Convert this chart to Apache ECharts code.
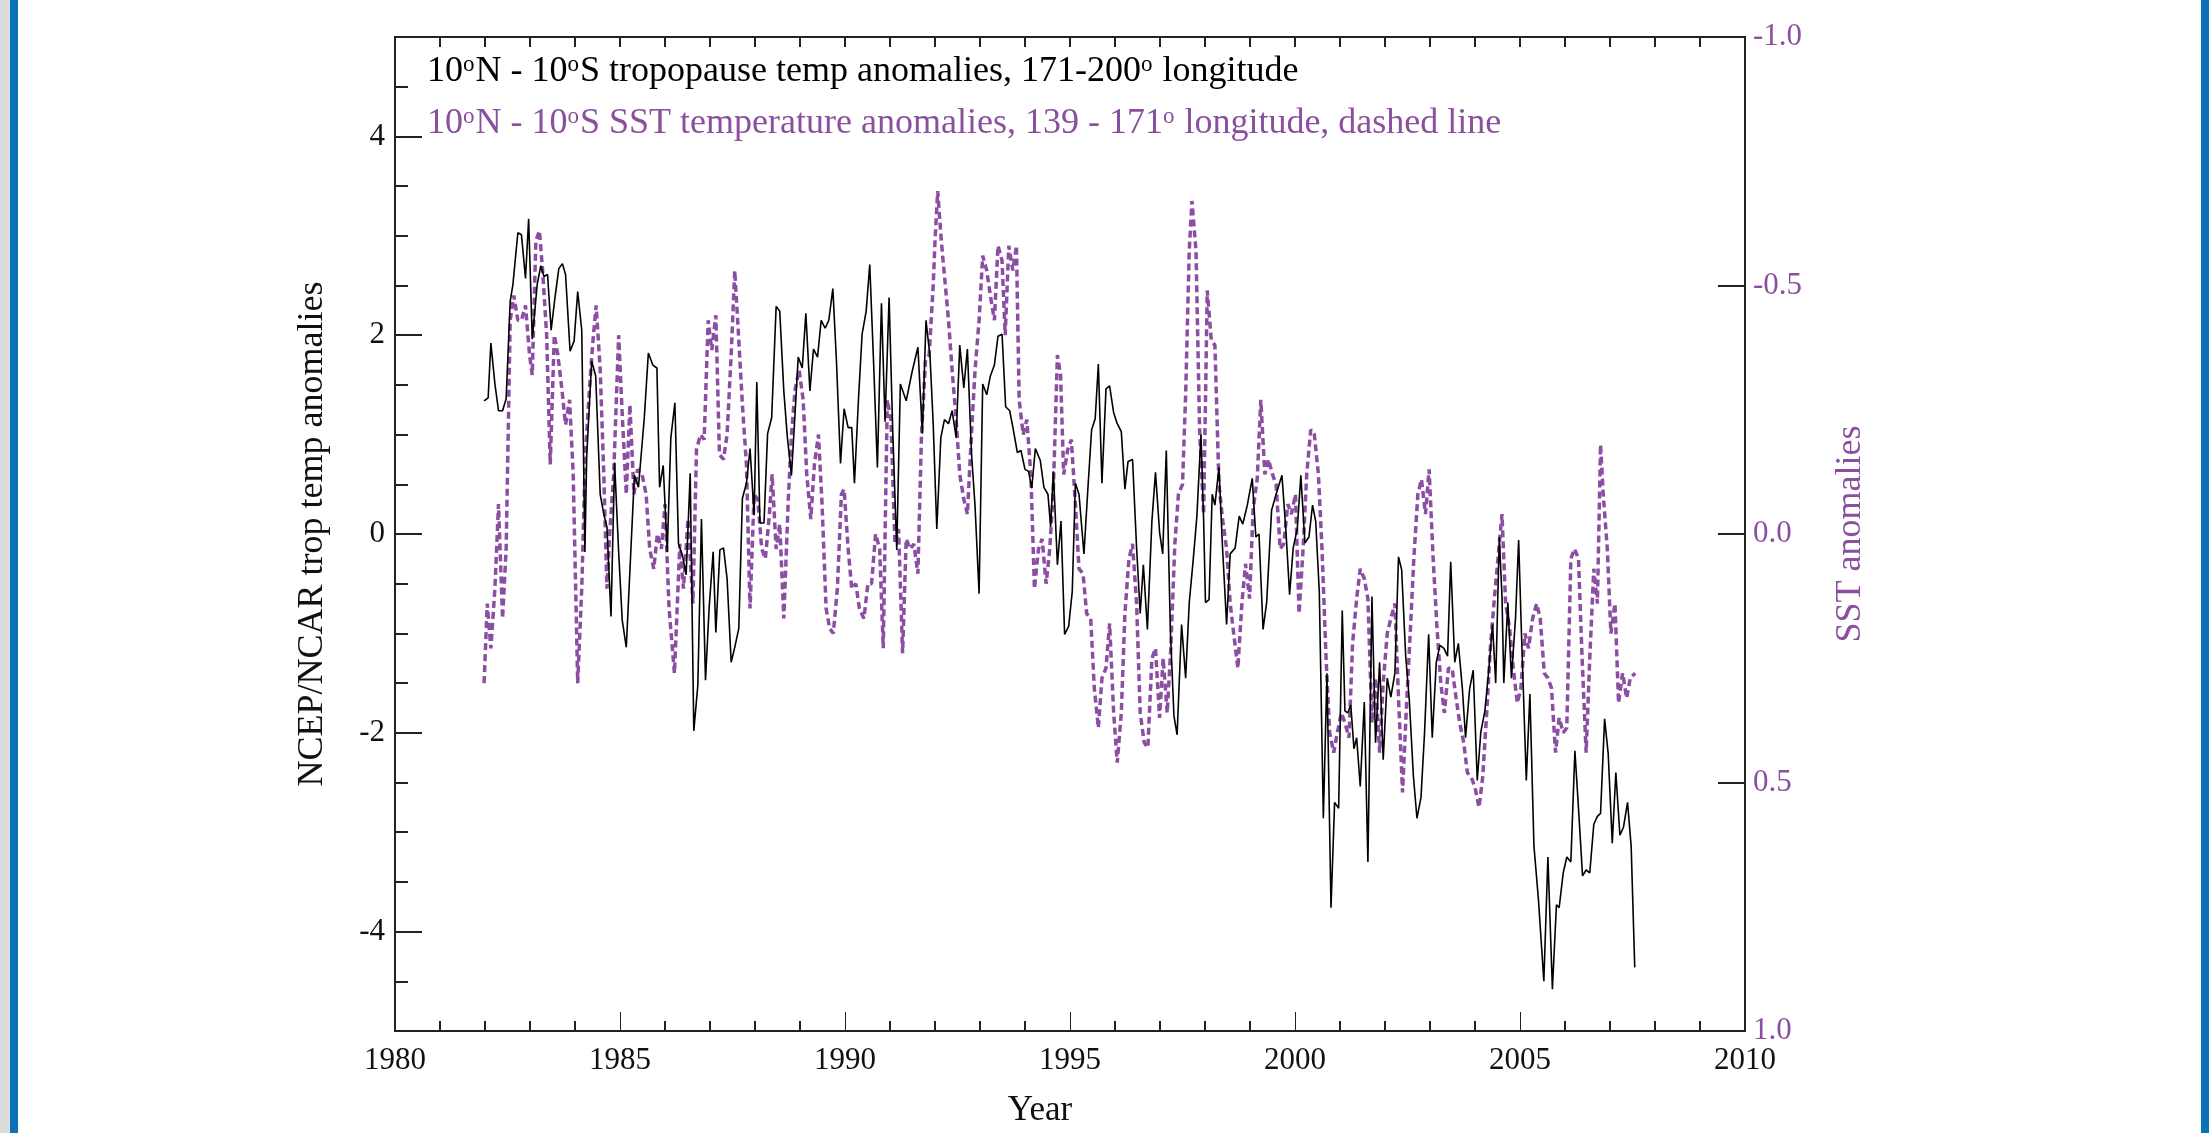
<!DOCTYPE html>
<html>
<head>
<meta charset="utf-8">
<script src="https://cdn.jsdelivr.net/npm/echarts@6/dist/echarts.min.js"></script>
<style>
html,body{margin:0;padding:0;background:#fff;}
#chart{width:2209px;height:1133px;}
</style>
</head>
<body>
<div id="chart"></div>
<script>
// Tropopause temperature anomalies (left axis), decimal year / value
const tropoYears = [1981.98,1982.07,1982.13,1982.22,1982.30,1982.39,1982.47,1982.56,1982.62,1982.73,1982.81,1982.90,1982.97,1983.05,1983.16,1983.24,1983.31,1983.39,1983.47,1983.55,1983.64,1983.72,1983.79,1983.89,1983.98,1984.06,1984.15,1984.22,1984.26,1984.37,1984.46,1984.56,1984.64,1984.71,1984.80,1984.88,1984.97,1985.05,1985.14,1985.24,1985.32,1985.41,1985.54,1985.63,1985.73,1985.82,1985.88,1985.96,1986.05,1986.13,1986.22,1986.30,1986.39,1986.47,1986.56,1986.64,1986.73,1986.81,1986.90,1986.98,1987.07,1987.13,1987.22,1987.30,1987.38,1987.47,1987.55,1987.64,1987.72,1987.81,1987.89,1987.98,1988.04,1988.11,1988.20,1988.28,1988.37,1988.47,1988.55,1988.64,1988.72,1988.81,1988.89,1988.96,1989.05,1989.13,1989.22,1989.30,1989.39,1989.47,1989.56,1989.64,1989.73,1989.81,1989.90,1989.98,1990.07,1990.15,1990.21,1990.30,1990.38,1990.47,1990.55,1990.64,1990.72,1990.81,1990.89,1990.98,1991.06,1991.15,1991.23,1991.36,1991.49,1991.62,1991.72,1991.80,1991.89,1991.96,1992.04,1992.13,1992.21,1992.30,1992.38,1992.47,1992.55,1992.64,1992.72,1992.81,1992.89,1992.98,1993.06,1993.15,1993.23,1993.32,1993.40,1993.49,1993.57,1993.66,1993.74,1993.83,1993.91,1994.00,1994.08,1994.15,1994.23,1994.34,1994.42,1994.51,1994.57,1994.63,1994.72,1994.80,1994.88,1994.97,1995.05,1995.12,1995.20,1995.31,1995.39,1995.48,1995.56,1995.63,1995.71,1995.80,1995.88,1995.97,1996.05,1996.14,1996.22,1996.29,1996.39,1996.48,1996.56,1996.63,1996.72,1996.82,1996.90,1996.99,1997.06,1997.14,1997.23,1997.31,1997.38,1997.48,1997.57,1997.65,1997.74,1997.82,1997.91,1997.97,1998.01,1998.09,1998.16,1998.22,1998.31,1998.39,1998.48,1998.56,1998.67,1998.76,1998.84,1998.94,1999.05,1999.13,1999.20,1999.29,1999.37,1999.48,1999.58,1999.71,1999.80,1999.88,1999.96,2000.05,2000.13,2000.22,2000.31,2000.39,2000.46,2000.54,2000.63,2000.71,2000.80,2000.88,2000.97,2001.05,2001.11,2001.17,2001.24,2001.31,2001.37,2001.45,2001.54,2001.62,2001.71,2001.79,2001.88,2001.96,2002.05,2002.13,2002.22,2002.30,2002.37,2002.46,2002.54,2002.63,2002.71,2002.80,2002.88,2002.97,2003.05,2003.14,2003.22,2003.31,2003.39,2003.46,2003.55,2003.63,2003.72,2003.79,2003.88,2003.96,2004.05,2004.13,2004.22,2004.30,2004.39,2004.46,2004.54,2004.60,2004.64,2004.73,2004.81,2004.90,2004.97,2005.03,2005.14,2005.22,2005.31,2005.41,2005.53,2005.62,2005.72,2005.81,2005.87,2005.96,2006.04,2006.13,2006.22,2006.30,2006.39,2006.47,2006.55,2006.64,2006.72,2006.79,2006.88,2006.96,2007.05,2007.13,2007.22,2007.30,2007.39,2007.47,2007.55];
const tropoValues = [1.34,1.37,1.92,1.51,1.24,1.24,1.36,2.34,2.51,3.03,3.01,2.57,3.17,1.96,2.51,2.70,2.59,2.61,2.05,2.36,2.67,2.72,2.61,1.84,1.94,2.44,2.05,-0.18,0.78,1.74,1.59,0.40,0.20,0.07,-0.83,0.72,-0.18,-0.87,-1.14,-0.18,0.59,0.47,1.17,1.82,1.70,1.67,0.47,0.69,-0.18,0.97,1.32,-0.10,-0.22,-0.41,0.61,-1.98,-1.52,0.15,-1.47,-0.75,-0.18,-0.99,-0.16,-0.14,-0.45,-1.29,-1.14,-0.95,0.36,0.51,0.86,0.19,1.53,0.11,0.11,1.01,1.17,2.29,2.24,1.44,0.97,0.59,1.21,1.78,1.67,2.22,1.44,1.86,1.78,2.15,2.07,2.15,2.47,1.74,0.71,1.26,1.07,1.07,0.51,1.36,2.01,2.24,2.71,1.67,0.67,2.32,1.13,2.38,1.05,-0.16,1.51,1.34,1.63,1.88,1.01,2.15,1.78,1.11,0.05,0.97,1.15,1.11,1.24,0.97,1.90,1.47,1.86,0.82,0.28,-0.60,1.51,1.40,1.59,1.70,1.99,2.01,1.28,1.24,1.05,0.82,0.84,0.65,0.63,0.46,0.86,0.74,0.47,0.40,0.07,0.63,-0.31,0.13,-1.01,-0.93,-0.58,0.51,0.40,-0.20,0.40,1.05,1.16,1.71,0.51,1.46,1.49,1.22,1.11,1.03,0.45,0.73,0.75,-0.14,-0.80,-0.31,-0.96,0.13,0.62,0.02,-0.20,0.84,-0.96,-1.83,-2.02,-0.91,-1.45,-0.69,-0.25,0.18,1.00,0.13,-0.69,-0.66,0.40,0.29,0.67,-0.14,-0.91,-0.20,-0.14,0.18,0.10,0.29,0.56,-0.03,0.00,-0.96,-0.69,0.24,0.40,0.59,0.02,-0.61,-0.14,0.05,0.59,-0.09,-0.03,0.29,0.13,-0.58,-2.86,-1.40,-3.76,-2.70,-2.76,-0.77,-1.78,-1.80,-1.72,-2.16,-2.05,-2.54,-1.69,-3.30,-0.63,-2.10,-1.29,-2.27,-1.45,-1.64,-1.40,-0.23,-0.36,-1.23,-1.67,-2.43,-2.86,-2.65,-1.99,-1.01,-2.05,-1.29,-1.12,-1.15,-1.23,-0.28,-1.29,-1.10,-1.56,-2.05,-1.56,-1.37,-2.48,-1.99,-1.78,-1.40,-0.91,-1.50,-0.03,-0.63,-1.50,-0.69,-1.45,-0.85,-0.06,-0.96,-2.48,-1.61,-3.14,-3.68,-4.50,-3.25,-4.58,-3.73,-3.76,-3.41,-3.25,-3.30,-2.18,-2.76,-3.44,-3.38,-3.41,-2.92,-2.84,-2.81,-1.86,-2.21,-3.11,-2.40,-3.03,-2.95,-2.70,-3.14,-4.36];

// SST anomalies (right axis, inverted), decimal year / value
const sstYears = [1981.98,1982.05,1982.13,1982.22,1982.30,1982.39,1982.47,1982.56,1982.64,1982.73,1982.81,1982.90,1982.99,1983.05,1983.13,1983.21,1983.28,1983.37,1983.45,1983.54,1983.62,1983.71,1983.79,1983.88,1983.96,1984.06,1984.15,1984.23,1984.32,1984.40,1984.47,1984.56,1984.64,1984.71,1984.77,1984.86,1984.97,1985.05,1985.14,1985.22,1985.31,1985.39,1985.49,1985.58,1985.66,1985.75,1985.83,1985.92,1986.00,1986.09,1986.21,1986.33,1986.41,1986.51,1986.62,1986.70,1986.79,1986.87,1986.96,1987.04,1987.13,1987.21,1987.30,1987.38,1987.47,1987.55,1987.64,1987.72,1987.81,1987.89,1987.98,1988.06,1988.15,1988.23,1988.32,1988.38,1988.47,1988.55,1988.64,1988.74,1988.81,1988.89,1988.98,1989.07,1989.15,1989.24,1989.32,1989.41,1989.49,1989.58,1989.66,1989.74,1989.83,1989.92,1989.98,1990.07,1990.15,1990.24,1990.32,1990.42,1990.51,1990.59,1990.68,1990.77,1990.85,1990.94,1991.02,1991.11,1991.19,1991.28,1991.36,1991.45,1991.53,1991.62,1991.70,1991.79,1991.87,1991.96,1992.00,1992.06,1992.14,1992.23,1992.30,1992.38,1992.47,1992.55,1992.64,1992.72,1992.81,1992.89,1992.98,1993.06,1993.15,1993.23,1993.32,1993.40,1993.49,1993.56,1993.64,1993.73,1993.81,1993.87,1993.96,1994.04,1994.13,1994.21,1994.30,1994.38,1994.47,1994.55,1994.63,1994.72,1994.79,1994.86,1994.95,1995.03,1995.12,1995.20,1995.29,1995.37,1995.46,1995.54,1995.63,1995.71,1995.80,1995.88,1995.97,1996.05,1996.14,1996.22,1996.31,1996.39,1996.48,1996.56,1996.65,1996.73,1996.82,1996.90,1996.99,1997.07,1997.16,1997.24,1997.33,1997.41,1997.50,1997.57,1997.65,1997.71,1997.80,1997.88,1997.97,1998.05,1998.14,1998.22,1998.31,1998.39,1998.48,1998.56,1998.65,1998.73,1998.82,1998.90,1998.99,1999.07,1999.16,1999.24,1999.33,1999.41,1999.50,1999.58,1999.67,1999.75,1999.84,1999.92,2000.01,2000.09,2000.18,2000.26,2000.35,2000.43,2000.52,2000.60,2000.69,2000.77,2000.86,2000.94,2001.03,2001.11,2001.20,2001.28,2001.37,2001.45,2001.54,2001.62,2001.71,2001.79,2001.88,2001.96,2002.05,2002.13,2002.22,2002.30,2002.39,2002.47,2002.56,2002.64,2002.73,2002.81,2002.90,2002.98,2003.07,2003.15,2003.24,2003.32,2003.41,2003.49,2003.58,2003.66,2003.75,2003.83,2003.92,2004.00,2004.09,2004.17,2004.26,2004.34,2004.43,2004.51,2004.60,2004.68,2004.77,2004.85,2004.94,2005.02,2005.11,2005.19,2005.28,2005.37,2005.45,2005.54,2005.62,2005.70,2005.79,2005.87,2005.96,2006.04,2006.13,2006.21,2006.30,2006.38,2006.47,2006.55,2006.64,2006.72,2006.79,2006.85,2006.94,2007.02,2007.11,2007.19,2007.28,2007.37,2007.45,2007.56];
const sstValues = [0.30,0.14,0.23,0.11,-0.06,0.17,0.03,-0.43,-0.48,-0.43,-0.43,-0.46,-0.36,-0.32,-0.59,-0.61,-0.53,-0.40,-0.14,-0.40,-0.36,-0.29,-0.22,-0.27,-0.12,0.30,0.11,-0.16,-0.29,-0.39,-0.46,-0.33,-0.12,0.11,0.00,-0.12,-0.40,-0.24,-0.08,-0.26,-0.08,-0.13,-0.12,-0.08,0.03,0.07,0.00,0.03,-0.06,0.15,0.28,0.02,0.11,-0.03,0.14,-0.17,-0.20,-0.19,-0.43,-0.37,-0.44,-0.16,-0.15,-0.20,-0.36,-0.53,-0.39,-0.26,-0.14,0.15,-0.08,-0.07,0.03,0.05,-0.04,-0.12,0.03,-0.02,0.17,-0.07,-0.20,-0.29,-0.33,-0.27,-0.12,-0.03,-0.14,-0.20,-0.06,0.15,0.19,0.20,0.11,-0.08,-0.09,0.03,0.11,0.10,0.15,0.17,0.10,0.10,0.00,0.03,0.23,-0.27,-0.23,0.02,-0.01,0.24,0.01,0.03,0.02,0.08,-0.20,-0.35,-0.36,-0.50,-0.59,-0.69,-0.59,-0.50,-0.43,-0.33,-0.23,-0.12,-0.07,-0.04,-0.20,-0.33,-0.43,-0.56,-0.53,-0.48,-0.43,-0.58,-0.55,-0.40,-0.58,-0.53,-0.58,-0.27,-0.20,-0.23,-0.12,0.11,0.03,0.01,0.10,0.03,-0.09,-0.36,-0.32,-0.12,-0.17,-0.19,-0.06,0.07,0.08,0.16,0.17,0.31,0.39,0.29,0.27,0.18,0.36,0.46,0.36,0.16,0.05,0.02,0.14,0.36,0.42,0.43,0.25,0.23,0.37,0.25,0.36,0.23,0.02,-0.08,-0.10,-0.28,-0.57,-0.67,-0.57,-0.21,-0.04,-0.49,-0.39,-0.38,-0.10,-0.03,0.03,0.14,0.21,0.27,0.14,0.06,0.13,-0.05,-0.11,-0.27,-0.12,-0.15,-0.12,-0.10,0.03,0.02,-0.06,-0.04,-0.08,0.16,0.03,-0.12,-0.21,-0.20,-0.12,0.03,0.25,0.40,0.44,0.40,0.36,0.38,0.41,0.22,0.13,0.07,0.09,0.13,0.38,0.29,0.44,0.30,0.20,0.17,0.14,0.33,0.52,0.36,0.20,0.05,-0.08,-0.11,-0.04,-0.13,0.05,0.18,0.30,0.36,0.27,0.27,0.33,0.38,0.42,0.48,0.49,0.51,0.55,0.49,0.36,0.23,0.13,0.05,-0.04,0.14,0.19,0.27,0.34,0.31,0.20,0.23,0.17,0.14,0.17,0.28,0.29,0.31,0.44,0.37,0.40,0.39,0.05,0.03,0.05,0.25,0.44,0.25,0.07,0.14,-0.18,-0.08,0.03,0.20,0.14,0.34,0.28,0.33,0.29,0.28];

// Axis tick values
const leftLabelValues = [-4, -2, 0, 2, 4];

const tropoLabel = '10{s|o}N - 10{s|o}S tropopause temp anomalies, 171-200{s|o} longitude';
const sstLabel = '10{s|o}N - 10{s|o}S SST temperature anomalies, 139 - 171{s|o} longitude, dashed line';

const FONT = "'Liberation Serif', 'Times New Roman', serif";
const PURPLE = '#8b4ea3';
const PURPLE_TEXT = '#8a4f9e';
const AXIS = '#222';

const chart = echarts.init(document.getElementById('chart'), null, {renderer: 'canvas'});

const tropoData = tropoYears.map((y, i) => [y, tropoValues[i]]);
const sstData = sstYears.map((y, i) => [y, sstValues[i]]);

function legendStyle(color) {
  return {
    fontFamily: FONT, fontSize: 36, fontWeight: 'normal', color: color, lineHeight: 40,
    rich: {s: {fontFamily: FONT, fontSize: 23, color: color, verticalAlign: 'top', lineHeight: 22, padding: [1, 1, 0, 0]}}
  };
}

const option = {
  animation: false,
  backgroundColor: '#ffffff',
  textStyle: {fontFamily: FONT},
  title: [
    {text: tropoLabel, left: 427, top: 52, padding: 0, textStyle: legendStyle('#000')},
    {text: sstLabel, left: 427, top: 104, padding: 0, textStyle: legendStyle(PURPLE_TEXT)}
  ],
  graphic: [
    {type: 'rect', silent: true, shape: {x: 0, y: 0, width: 10, height: 1133}, style: {fill: '#dcdcdc'}},
    {type: 'rect', silent: true, shape: {x: 10, y: 0, width: 8, height: 1133}, style: {fill: '#0b72ba'}},
    {type: 'rect', silent: true, shape: {x: 2201, y: 0, width: 8, height: 1133}, style: {fill: '#0b72ba'}}
  ],
  grid: {left: 395, right: 464, top: 37, bottom: 100, show: true, borderColor: AXIS, borderWidth: 2, backgroundColor: 'transparent'},
  xAxis: [
    {
      type: 'value', min: 1980, max: 2010, interval: 5, position: 'bottom',
      axisLine: {show: true, onZero: false, lineStyle: {color: AXIS, width: 2}},
      axisTick: {show: true, inside: true, length: 19, lineStyle: {color: AXIS, width: 1}},
      minorTick: {show: true, splitNumber: 5, length: 10, lineStyle: {color: AXIS, width: 2}},
      axisLabel: {color: '#111', fontSize: 31, fontFamily: FONT, margin: 14, showMinLabel: true, showMaxLabel: true,
        formatter: v => String(v)},
      splitLine: {show: false},
      name: 'Year', nameLocation: 'middle', nameGap: 62,
      nameTextStyle: {fontFamily: FONT, fontSize: 35, color: '#111', padding: [0, 60, 0, 0]}
    },
    {
      type: 'value', min: 1980, max: 2010, interval: 1, position: 'top',
      axisLine: {show: true, onZero: false, lineStyle: {color: AXIS, width: 2}},
      axisTick: {show: true, inside: true, length: 10, lineStyle: {color: AXIS, width: 2}},
      axisLabel: {show: false}, splitLine: {show: false}
    }
  ],
  yAxis: [
    {
      type: 'value', min: -5, max: 5, interval: 1, position: 'left',
      axisLine: {show: true, onZero: false, lineStyle: {color: AXIS, width: 2}},
      axisTick: {show: true, inside: true, length: 27, customValues: leftLabelValues, lineStyle: {color: AXIS, width: 2}},
      axisLabel: {customValues: leftLabelValues, color: '#111', fontSize: 31, fontFamily: FONT, margin: 10},
      splitLine: {show: false},
      name: 'NCEP/NCAR trop temp anomalies', nameLocation: 'middle', nameGap: 64,
      nameTextStyle: {fontFamily: FONT, fontSize: 36, color: '#111'}
    },
    {
      type: 'value', min: -5, max: 5, interval: 0.5, position: 'left',
      axisLine: {show: false, onZero: false},
      axisTick: {show: true, inside: true, length: 13, lineStyle: {color: AXIS, width: 2}},
      axisLabel: {show: false}, splitLine: {show: false}
    },
    {
      type: 'value', min: -1, max: 1, interval: 0.5, inverse: true, position: 'right',
      axisLine: {show: true, onZero: false, lineStyle: {color: AXIS, width: 2}},
      axisTick: {show: true, inside: true, length: 27, lineStyle: {color: AXIS, width: 2}},
      axisLabel: {color: PURPLE_TEXT, fontSize: 31, fontFamily: FONT, margin: 8, showMinLabel: true, showMaxLabel: true,
        formatter: v => (Math.abs(v) < 1e-9 ? 0 : v).toFixed(1)},
      splitLine: {show: false},
      name: 'SST anomalies', nameLocation: 'middle', nameGap: 88,
      nameTextStyle: {fontFamily: FONT, fontSize: 36, color: PURPLE_TEXT}
    }
  ],
  series: [
    {
      name: 'tropopause', type: 'line', xAxisIndex: 0, yAxisIndex: 0, data: tropoData,
      showSymbol: false, symbol: 'none', smooth: false,
      lineStyle: {color: '#000', width: 1.6}, z: 3
    },
    {
      name: 'SST', type: 'line', xAxisIndex: 0, yAxisIndex: 2, data: sstData,
      showSymbol: false, symbol: 'none', smooth: false,
      lineStyle: {color: PURPLE, width: 3.5, type: [7, 4]}, z: 2
    }
  ]
};
chart.setOption(option);
</script>
</body>
</html>
